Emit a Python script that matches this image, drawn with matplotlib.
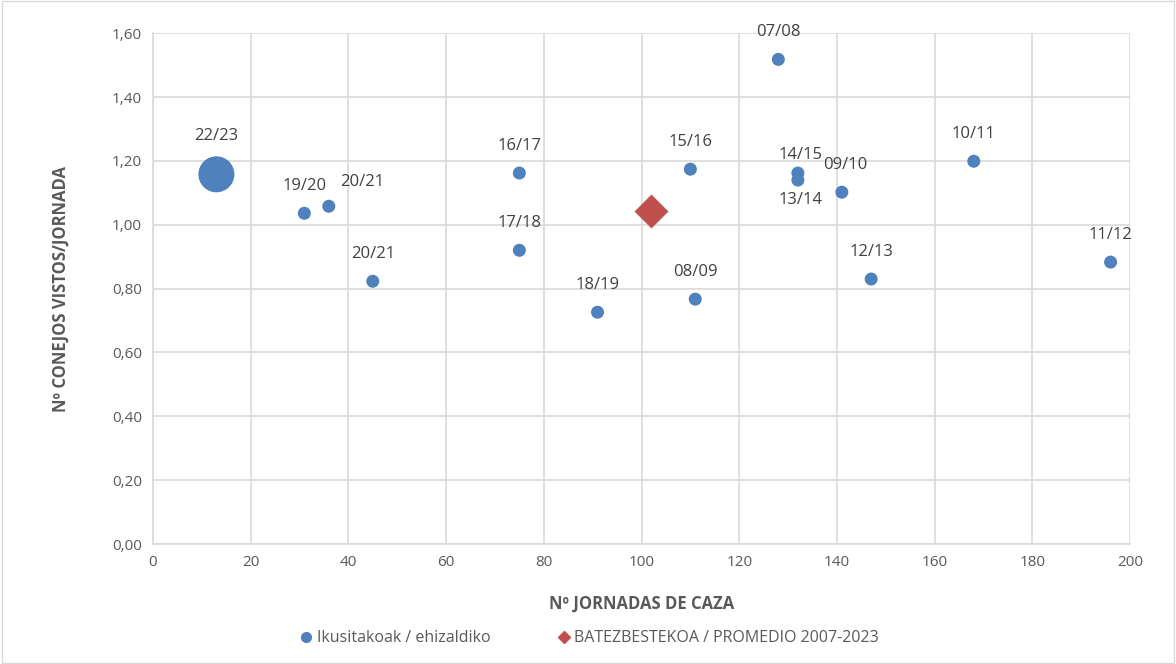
import matplotlib
matplotlib.use("Agg")
import matplotlib.pyplot as plt
from matplotlib.lines import Line2D
from matplotlib.ticker import FuncFormatter

# temporadas: jornadas de caza vs conejos vistos / jornada
seasons = ["22/23", "19/20", "20/21", "20/21", "16/17", "17/18", "18/19", "08/09",
           "15/16", "07/08", "14/15", "13/14", "09/10", "12/13", "10/11", "11/12"]
jornadas = [13, 31, 36, 45, 75, 75, 91, 111, 110, 128, 132, 132, 141, 147, 168, 196]
vistos = [1.158, 1.036, 1.058, 0.823, 1.162, 0.920, 0.726, 0.767,
          1.174, 1.518, 1.162, 1.140, 1.102, 0.830, 1.199, 0.883]
avg_jornadas = [102]
avg_vistos = [1.043]

# label offsets in pixels (dx, dy)
offsets = {0: (0, 38), 1: (0, 27), 2: (33, 24), 9: (0, 27), 10: (3, 18), 11: (3, -20), 12: (3, 27)}

blue = "#4F81BD"
red = "#C0504D"
grey = "#595959"

plt.rcParams['font.family'] = ['Open Sans', 'DejaVu Sans']

fig = plt.figure(figsize=(11.76, 6.64), dpi=100)
ax = fig.add_axes([0.130, 0.1807, 0.831, 0.7693])

sizes = [36 if s == "22/23" else 13 for s in seasons]
sizes = [(d * 0.72) ** 2 for d in sizes]
ax.scatter(jornadas, vistos, s=sizes, color=blue, zorder=3, linewidths=0)
ax.scatter(avg_jornadas, avg_vistos, s=(24 * 0.72) ** 2, marker="D", color=red, zorder=3, linewidths=0)

for i, (x, y, lab) in enumerate(zip(jornadas, vistos, seasons)):
    dx, dy = offsets.get(i, (0, 27))
    ax.annotate(lab, (x, y), textcoords="offset points", xytext=(dx * 0.72, dy * 0.72),
                ha="center", va="center", fontsize=12, color="#404040", zorder=4)

ax.set_xlim(0, 200)
ax.set_ylim(0, 1.6)
ax.set_xticks(range(0, 201, 20))
ax.set_yticks([i * 0.2 for i in range(9)])
ax.yaxis.set_major_formatter(FuncFormatter(lambda v, p: f"{v:.2f}".replace(".", ",")))
ax.grid(True, color="#d9d9d9", linewidth=1.2, zorder=0)
ax.set_axisbelow(True)
for side in ["top", "right"]:
    ax.spines[side].set_visible(False)
ax.spines["left"].set_color("#d9d9d9")
ax.spines["bottom"].set_color("#d9d9d9")
ax.spines["left"].set_linewidth(1.2)
ax.spines["bottom"].set_linewidth(1.2)
ax.tick_params(length=0, labelsize=11, colors=grey, pad=8)

ax.set_xlabel("Nº JORNADAS DE CAZA", fontsize=12, fontweight="bold", color=grey, labelpad=18)
ax.set_ylabel("Nº CONEJOS VISTOS/JORNADA", fontsize=12, fontweight="bold", color=grey, labelpad=30)

handles = [Line2D([], [], marker="o", linestyle="", color=blue, markersize=7),
           Line2D([], [], marker="D", linestyle="", color=red, markersize=6)]
leg = fig.legend(handles, ["Ikusitakoak / ehizaldiko", "BATEZBESTEKOA / PROMEDIO 2007-2023"],
                 loc="center", bbox_to_anchor=(0.5, 0.039), ncol=2, frameon=False,
                 fontsize=11.5, handletextpad=0.05, columnspacing=4.0, handlelength=1.2)
for t in leg.get_texts():
    t.set_color(grey)

# outer frame
fig.patches.append(plt.Rectangle((0.002, 0.002), 0.996, 0.996, transform=fig.transFigure,
                                 fill=False, edgecolor="#d9d9d9", linewidth=1))

fig.savefig("out.png", dpi=100, facecolor="white")
